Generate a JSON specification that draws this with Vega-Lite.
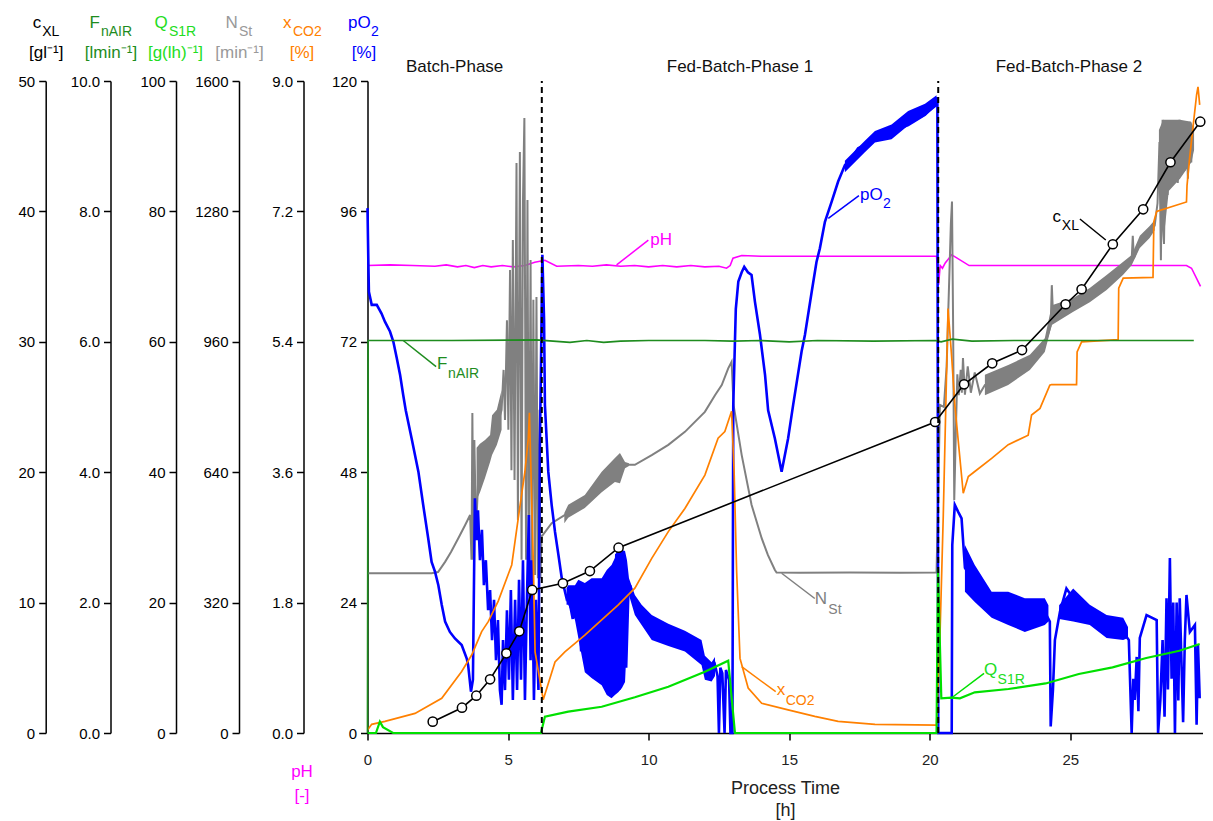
{
"$schema": "https://vega.github.io/schema/vega-lite/v6.json",
"width": 835,
"height": 652,
"autosize": {"type": "none"},
"padding": {"left": 367.5, "top": 81, "right": 10.5, "bottom": 88},
"background": "white",
"config": {
  "font": "Liberation Sans",
  "view": {"stroke": null},
  "axis": {"grid": false, "domainColor": "#000", "domainWidth": 1.5, "tickColor": "#000", "tickWidth": 1.5, "tickSize": 7, "labelColor": "#000", "labelFontSize": 15, "labelPadding": 4, "labelFont": "Liberation Sans", "titleFont": "Liberation Sans", "titleFontWeight": "normal", "labelOverlap": false}
},
"datasets": {
  "pO2": [
    {"t":0,"v":96.6},{"t":0.03,"v":86.7},{"t":0.05,"v":81.2},{"t":0.15,"v":78.8},{"t":0.33,"v":78.8},{"t":0.5,"v":77.2},{"t":0.62,"v":75.7},{"t":0.8,"v":73.9},{"t":0.92,"v":72.0},{"t":1.04,"v":69.0},{"t":1.16,"v":65.9},{"t":1.27,"v":62.2},{"t":1.36,"v":59.4},{"t":1.57,"v":54.2},{"t":1.81,"v":48.1},{"t":1.98,"v":42.0},{"t":2.16,"v":35.8},{"t":2.28,"v":31.5},{"t":2.4,"v":29.7},{"t":2.52,"v":27.2},{"t":2.64,"v":23.6},{"t":2.76,"v":20.5},{"t":2.93,"v":18.6},{"t":3.11,"v":17.4},{"t":3.35,"v":16.2},{"t":3.53,"v":13.7},{"t":3.58,"v":12.5},{"t":3.68,"v":7.6},{"t":3.75,"v":9.8},{"t":3.82,"v":43.2},{"t":3.88,"v":35.5},{"t":3.93,"v":41.0},{"t":4.0,"v":31.8},{"t":4.07,"v":37.4},{"t":4.14,"v":27.2},{"t":4.21,"v":31.8},{"t":4.29,"v":22.6},{"t":4.36,"v":26.3},{"t":4.43,"v":17.1},{"t":4.5,"v":24.5},{"t":4.57,"v":13.4},{"t":4.64,"v":20.8},{"t":4.71,"v":7.9},{"t":4.77,"v":5.2},{"t":4.82,"v":17.1},{"t":4.89,"v":7.9},{"t":4.96,"v":22.6},{"t":5.03,"v":9.8},{"t":5.1,"v":26.3},{"t":5.17,"v":6.1},{"t":5.25,"v":24.5},{"t":5.32,"v":7.9},{"t":5.39,"v":28.2},{"t":5.46,"v":9.8},{"t":5.53,"v":31.8},{"t":5.6,"v":6.1},{"t":5.67,"v":24.5},{"t":5.74,"v":40.1},{"t":5.8,"v":13.4},{"t":5.85,"v":31.8},{"t":5.92,"v":6.1},{"t":5.99,"v":24.5},{"t":6.08,"v":7.9},{"t":6.13,"v":52.1},{"t":6.22,"v":88.0},{"t":6.28,"v":76.0},{"t":6.31,"v":60.4},{"t":6.43,"v":48.1},{"t":6.55,"v":42.0},{"t":6.67,"v":37.0},{"t":6.79,"v":32.8},{"t":6.91,"v":28.5},{"t":7.08,"v":24.8},{"t":7.14,"v":25.4},{"t":7.3,"v":21.0},{"t":7.45,"v":27.0},{"t":7.6,"v":15.0},{"t":7.73,"v":26.0},{"t":7.85,"v":12.0},{"t":8.0,"v":27.0},{"t":8.15,"v":10.0},{"t":8.33,"v":28.0},{"t":8.45,"v":9.0},{"t":8.6,"v":30.0},{"t":8.72,"v":7.0},{"t":8.85,"v":33.0},{"t":8.97,"v":8.0},{"t":9.1,"v":33.0},{"t":9.2,"v":12.0},{"t":9.28,"v":26.0},{"t":9.34,"v":27.2},{"t":9.51,"v":23.6},{"t":9.75,"v":21.7},{"t":10.11,"v":19.0},{"t":10.7,"v":17.5},{"t":11.29,"v":16.2},{"t":11.88,"v":13.8},{"t":12.0,"v":11.6},{"t":12.24,"v":11.2},{"t":12.36,"v":12.5},{"t":12.45,"v":10.5},{"t":12.5,"v":0},{"t":12.55,"v":12.0},{"t":12.62,"v":11.0},{"t":12.7,"v":0},{"t":12.75,"v":11.6},{"t":12.86,"v":9.8},{"t":12.91,"v":0},{"t":12.98,"v":0},{"t":13.01,"v":60.4},{"t":13.1,"v":78.0},{"t":13.19,"v":83.1},{"t":13.31,"v":84.8},{"t":13.4,"v":85.8},{"t":13.53,"v":84.8},{"t":13.66,"v":84.3},{"t":13.78,"v":79.4},{"t":13.96,"v":73.3},{"t":14.14,"v":65.9},{"t":14.25,"v":59.4},{"t":14.49,"v":54.2},{"t":14.73,"v":48.1},{"t":14.96,"v":54.2},{"t":15.14,"v":60.4},{"t":15.44,"v":70.2},{"t":15.56,"v":73.3},{"t":15.8,"v":81.2},{"t":15.97,"v":86.7},{"t":16.09,"v":89.2},{"t":16.27,"v":94.1},{"t":16.51,"v":97.8},{"t":16.74,"v":101.5},{"t":16.98,"v":104.5},{"t":17.22,"v":105.8},{"t":17.45,"v":107.6},{"t":17.69,"v":108.2},{"t":18.05,"v":110.1},{"t":18.64,"v":110.7},{"t":19.23,"v":111.9},{"t":19.83,"v":113.8},{"t":20.24,"v":115.9},{"t":20.27,"v":117.0},{"t":20.3,"v":0},{"t":20.78,"v":0},{"t":20.8,"v":34.6},{"t":20.89,"v":42.0},{"t":21.01,"v":40.7},{"t":21.13,"v":39.5},{"t":21.25,"v":30.4},{"t":21.6,"v":27.6},{"t":22.2,"v":23.6},{"t":22.79,"v":23.0},{"t":23.38,"v":21.7},{"t":24.09,"v":22.3},{"t":24.27,"v":20.5},{"t":24.3,"v":1.2},{"t":24.38,"v":7.9},{"t":24.45,"v":17.1},{"t":24.63,"v":22.3},{"t":24.86,"v":26.6},{"t":25.1,"v":24.8},{"t":25.69,"v":21.7},{"t":26.29,"v":19.3},{"t":26.88,"v":18.6},{"t":27.08,"v":17.1},{"t":27.18,"v":0},{"t":27.24,"v":10.0},{"t":27.29,"v":6.1},{"t":27.36,"v":14.0},{"t":27.42,"v":4.0},{"t":27.47,"v":17.5},{"t":27.71,"v":21.7},{"t":28.07,"v":20.8},{"t":28.12,"v":0},{"t":28.2,"v":6.0},{"t":28.28,"v":17.1},{"t":28.35,"v":3.0},{"t":28.42,"v":24.8},{"t":28.47,"v":8.0},{"t":28.54,"v":32.2},{"t":28.6,"v":10.0},{"t":28.66,"v":24.0},{"t":28.72,"v":0},{"t":28.78,"v":24.0},{"t":28.84,"v":6.0},{"t":28.89,"v":24.8},{"t":29.01,"v":2.0},{"t":29.07,"v":17.0},{"t":29.13,"v":25.4},{"t":29.25,"v":18.6},{"t":29.43,"v":19.9},{"t":29.49,"v":1.5},{"t":29.54,"v":16.2},{"t":29.6,"v":6.4}
  ],
  "pO2band": [
    {"seg":1,"t":7.08,"lo":23.6,"hi":26.7},{"seg":1,"t":7.14,"lo":23.6,"hi":27.2},{"seg":1,"t":7.38,"lo":20.8,"hi":27.2},{"seg":1,"t":7.5,"lo":17.5,"hi":28.2},{"seg":1,"t":7.73,"lo":11.2,"hi":27.6},{"seg":1,"t":7.97,"lo":10.1,"hi":28.5},{"seg":1,"t":8.33,"lo":8.8,"hi":28.5},{"seg":1,"t":8.51,"lo":7.0,"hi":30.0},{"seg":1,"t":8.68,"lo":6.4,"hi":30.9},{"seg":1,"t":8.8,"lo":7.0,"hi":32.2},{"seg":1,"t":8.92,"lo":7.5,"hi":34.6},{"seg":1,"t":9.05,"lo":8.3,"hi":33.7},{"seg":1,"t":9.16,"lo":9.4,"hi":33.5},{"seg":1,"t":9.23,"lo":17.1,"hi":31.8},{"seg":1,"t":9.3,"lo":25.4,"hi":28.5},{"seg":1,"t":9.51,"lo":21.7,"hi":25.4},{"seg":1,"t":9.75,"lo":19.9,"hi":23.6},{"seg":1,"t":10.11,"lo":17.1,"hi":21.7},{"seg":1,"t":10.7,"lo":16.0,"hi":20.1},{"seg":1,"t":11.29,"lo":15.0,"hi":18.8},{"seg":1,"t":11.88,"lo":12.5,"hi":17.1},{"seg":1,"t":12.0,"lo":9.8,"hi":14.2},{"seg":1,"t":12.24,"lo":9.5,"hi":13.0},{"seg":1,"t":12.36,"lo":10.5,"hi":14.0},
    {"seg":2,"t":16.98,"lo":103.2,"hi":105.3},{"seg":2,"t":17.69,"lo":106.9,"hi":109.0},{"seg":2,"t":18.05,"lo":108.7,"hi":110.8},{"seg":2,"t":18.64,"lo":109.3,"hi":112.0},{"seg":2,"t":19.23,"lo":111.8,"hi":114.5},{"seg":2,"t":19.83,"lo":113.6,"hi":115.8},{"seg":2,"t":20.24,"lo":115.3,"hi":117.4},
    {"seg":3,"t":21.25,"lo":26.0,"hi":34.6},{"seg":3,"t":21.6,"lo":24.1,"hi":30.9},{"seg":3,"t":22.2,"lo":21.2,"hi":26.0},{"seg":3,"t":22.79,"lo":19.9,"hi":26.0},{"seg":3,"t":23.38,"lo":18.6,"hi":24.8},{"seg":3,"t":24.09,"lo":19.9,"hi":24.8},{"seg":3,"t":24.22,"lo":20.5,"hi":23.5},
    {"seg":4,"t":24.6,"lo":21.0,"hi":23.5},{"seg":4,"t":25.1,"lo":20.5,"hi":26.6},{"seg":4,"t":25.69,"lo":19.9,"hi":23.6},{"seg":4,"t":26.29,"lo":17.5,"hi":21.7},{"seg":4,"t":26.88,"lo":17.1,"hi":21.2},{"seg":4,"t":27.05,"lo":17.5,"hi":19.5}
  ],
  "xCO2": [
    {"t":0,"v":0.04},{"t":0.15,"v":0.12},{"t":0.62,"v":0.16},{"t":1.69,"v":0.27},{"t":2.64,"v":0.48},{"t":3.35,"v":0.85},{"t":3.71,"v":1.08},{"t":4.06,"v":1.40},{"t":4.3,"v":1.54},{"t":4.65,"v":1.82},{"t":5.13,"v":2.32},{"t":5.36,"v":2.96},{"t":5.6,"v":3.61},{"t":5.72,"v":4.07},{"t":5.76,"v":4.42},{"t":5.9,"v":2.32},{"t":5.96,"v":1.12},{"t":6.25,"v":0.46},{"t":6.67,"v":0.98},{"t":7.02,"v":1.12},{"t":7.73,"v":1.35},{"t":8.92,"v":1.77},{"t":9.51,"v":2.0},{"t":10.11,"v":2.41},{"t":10.7,"v":2.78},{"t":11.29,"v":3.10},{"t":12.0,"v":3.56},{"t":12.47,"v":4.07},{"t":12.71,"v":4.16},{"t":12.95,"v":4.44},{"t":13.04,"v":3.61},{"t":13.13,"v":2.23},{"t":13.25,"v":1.03},{"t":13.54,"v":0.62},{"t":14.02,"v":0.41},{"t":14.96,"v":0.32},{"t":15.91,"v":0.23},{"t":16.74,"v":0.16},{"t":18.05,"v":0.12},{"t":20.24,"v":0.11},{"t":20.36,"v":1.31},{"t":20.48,"v":3.01},{"t":20.65,"v":5.86},{"t":20.78,"v":5.18},{"t":20.89,"v":4.53},{"t":21.19,"v":3.31},{"t":21.37,"v":3.54},{"t":21.6,"v":3.61},{"t":22.2,"v":3.79},{"t":22.79,"v":3.98},{"t":23.5,"v":4.11},{"t":23.62,"v":4.39},{"t":23.92,"v":4.48},{"t":24.27,"v":4.80},{"t":24.33,"v":4.81},{"t":25.22,"v":4.81},{"t":25.24,"v":5.26},{"t":25.4,"v":5.40},{"t":26.7,"v":5.43},{"t":26.72,"v":6.14},{"t":26.88,"v":6.28},{"t":27.94,"v":6.29},{"t":27.97,"v":7.06},{"t":28.07,"v":7.20},{"t":29.13,"v":7.33},{"t":29.15,"v":7.56},{"t":29.24,"v":7.93},{"t":29.37,"v":8.39},{"t":29.49,"v":8.81},{"t":29.54,"v":8.92},{"t":29.6,"v":8.67}
  ],
  "NSt": [
    {"t":0,"v":392},{"t":2.28,"v":392},{"t":2.51,"v":395},{"t":2.76,"v":420},{"t":2.97,"v":444},{"t":3.23,"v":478},{"t":3.47,"v":510},{"t":3.65,"v":535},{"t":3.7,"v":425},{"t":3.73,"v":785},{"t":3.77,"v":425},{"t":3.8,"v":719},{"t":3.86,"v":498},{"t":3.95,"v":640},{"t":4.18,"v":672},{"t":4.36,"v":698},{"t":4.43,"v":731},{"t":4.6,"v":750},{"t":4.77,"v":793},{"t":4.84,"v":891},{"t":4.89,"v":768},{"t":4.96,"v":1013},{"t":5.01,"v":744},{"t":5.07,"v":1136},{"t":5.12,"v":645},{"t":5.17,"v":1210},{"t":5.23,"v":621},{"t":5.3,"v":1399},{"t":5.35,"v":523},{"t":5.42,"v":1426},{"t":5.48,"v":425},{"t":5.53,"v":1308},{"t":5.58,"v":1509},{"t":5.64,"v":425},{"t":5.69,"v":1308},{"t":5.74,"v":400},{"t":5.8,"v":1161},{"t":5.85,"v":395},{"t":5.9,"v":1063},{"t":5.96,"v":388},{"t":6.01,"v":1070},{"t":6.06,"v":380},{"t":6.12,"v":793},{"t":6.15,"v":380},{"t":6.19,"v":482},{"t":6.55,"v":515},{"t":7.14,"v":540},{"t":7.73,"v":568},{"t":8.33,"v":617},{"t":8.8,"v":650},{"t":9.16,"v":658},{"t":9.51,"v":658},{"t":10.11,"v":682},{"t":10.7,"v":707},{"t":11.29,"v":739},{"t":12.0,"v":788},{"t":12.36,"v":829},{"t":12.6,"v":854},{"t":12.83,"v":895},{"t":12.95,"v":911},{"t":13.02,"v":805},{"t":13.31,"v":682},{"t":13.66,"v":560},{"t":14.02,"v":478},{"t":14.24,"v":437},{"t":14.49,"v":400},{"t":14.55,"v":394},{"t":15.38,"v":393},{"t":17.16,"v":394},{"t":18.94,"v":393},{"t":20.24,"v":394},{"t":20.3,"v":584},{"t":20.36,"v":805},{"t":20.5,"v":800},{"t":20.6,"v":900},{"t":20.75,"v":1250},{"t":20.79,"v":1304},{"t":20.83,"v":1000},{"t":20.87,"v":572},{"t":20.93,"v":750},{"t":20.98,"v":880},{"t":21.03,"v":829},{"t":21.1,"v":891},{"t":21.14,"v":835},{"t":21.18,"v":920},{"t":21.25,"v":830},{"t":21.35,"v":900},{"t":21.46,"v":835},{"t":21.6,"v":885},{"t":21.78,"v":833},{"t":21.96,"v":854},{"t":22.79,"v":878},{"t":23.56,"v":910},{"t":24.09,"v":952},{"t":24.3,"v":1000},{"t":24.34,"v":1099},{"t":24.38,"v":1030},{"t":25.09,"v":1050},{"t":25.69,"v":1075},{"t":26.29,"v":1105},{"t":26.87,"v":1140},{"t":27.18,"v":1160},{"t":27.22,"v":1220},{"t":27.26,"v":1165},{"t":27.47,"v":1205},{"t":27.82,"v":1230},{"t":28.0,"v":1245},{"t":28.1,"v":1300},{"t":28.17,"v":1450},{"t":28.22,"v":1160},{"t":28.28,"v":1505},{"t":28.33,"v":1200},{"t":28.4,"v":1500},{"t":28.46,"v":1320},{"t":28.52,"v":1495},{"t":28.58,"v":1340},{"t":28.64,"v":1490},{"t":28.7,"v":1360},{"t":28.76,"v":1500},{"t":28.82,"v":1350},{"t":28.88,"v":1505},{"t":28.94,"v":1370},{"t":29.0,"v":1495},{"t":29.06,"v":1380},{"t":29.12,"v":1500},{"t":29.18,"v":1360},{"t":29.24,"v":1500},{"t":29.3,"v":1400},{"t":29.35,"v":1490}
  ],
  "NStband": [
    {"seg":1,"t":3.88,"lo":572,"hi":700},{"seg":1,"t":4.0,"lo":590,"hi":710},{"seg":1,"t":4.18,"lo":626,"hi":719},{"seg":1,"t":4.36,"lo":665,"hi":731},{"seg":1,"t":4.43,"lo":682,"hi":780},{"seg":1,"t":4.6,"lo":707,"hi":793},{"seg":1,"t":4.77,"lo":744,"hi":842},
    {"seg":2,"t":7.0,"lo":515,"hi":540},{"seg":2,"t":7.14,"lo":528,"hi":560},{"seg":2,"t":7.73,"lo":552,"hi":584},{"seg":2,"t":8.33,"lo":591,"hi":641},{"seg":2,"t":8.8,"lo":616,"hi":675},{"seg":2,"t":8.98,"lo":613,"hi":687},{"seg":2,"t":9.16,"lo":650,"hi":665},{"seg":2,"t":9.3,"lo":655,"hi":662},
    {"seg":3,"t":21.96,"lo":829,"hi":879},{"seg":3,"t":22.79,"lo":854,"hi":903},{"seg":3,"t":23.56,"lo":891,"hi":928},{"seg":3,"t":24.09,"lo":935,"hi":969},{"seg":3,"t":24.34,"lo":1001,"hi":1050},{"seg":3,"t":25.09,"lo":1033,"hi":1067},{"seg":3,"t":25.69,"lo":1057,"hi":1092},{"seg":3,"t":26.29,"lo":1087,"hi":1124},{"seg":3,"t":26.87,"lo":1124,"hi":1156},{"seg":3,"t":27.18,"lo":1148,"hi":1173},{"seg":3,"t":27.47,"lo":1190,"hi":1220},{"seg":3,"t":27.82,"lo":1215,"hi":1244},{"seg":3,"t":28.0,"lo":1234,"hi":1259},
    {"seg":4,"t":28.15,"lo":1330,"hi":1480},{"seg":4,"t":28.3,"lo":1200,"hi":1505},{"seg":4,"t":28.5,"lo":1330,"hi":1505},{"seg":4,"t":28.9,"lo":1360,"hi":1505},{"seg":4,"t":29.3,"lo":1400,"hi":1500},{"seg":4,"t":29.4,"lo":1430,"hi":1480}
  ],
  "QS1R": [
    {"t":0,"v":0},{"t":0.3,"v":0},{"t":0.44,"v":1.73},{"t":0.55,"v":0.9},{"t":0.91,"v":0},{"t":6.17,"v":0},{"t":6.31,"v":2.5},{"t":7.14,"v":3.27},{"t":8.33,"v":4.03},{"t":9.51,"v":5.48},{"t":10.7,"v":7.1},{"t":12.0,"v":9.4},{"t":12.83,"v":11.09},{"t":13.07,"v":0},{"t":20.24,"v":0},{"t":20.29,"v":25.2},{"t":20.41,"v":5.32},{"t":20.77,"v":5.41},{"t":21.07,"v":5.32},{"t":21.6,"v":6.24},{"t":22.8,"v":6.75},{"t":24.12,"v":7.6},{"t":25.3,"v":9.05},{"t":26.5,"v":10.07},{"t":27.7,"v":11.5},{"t":28.88,"v":12.62},{"t":29.6,"v":13.65}
  ],
  "FnAIR": [
    {"t":0,"v":0},{"t":0.02,"v":6.02},{"t":3,"v":6.02},{"t":6.0,"v":6.03},{"t":6.6,"v":6.01},{"t":7.2,"v":5.99},{"t":7.8,"v":6.02},{"t":8.4,"v":5.99},{"t":9.0,"v":6.01},{"t":10,"v":6.02},{"t":12,"v":6.02},{"t":13,"v":6.01},{"t":14,"v":6.02},{"t":15,"v":6.0},{"t":16,"v":6.02},{"t":18,"v":6.01},{"t":20.2,"v":6.02},{"t":20.4,"v":6.0},{"t":20.8,"v":6.04},{"t":21.5,"v":6.01},{"t":23,"v":6.02},{"t":25,"v":6.02},{"t":27,"v":6.02},{"t":29.39,"v":6.02}
  ],
  "pH": [
    {"t":0,"v":6.99},{"t":0.8,"v":7.0},{"t":1.6,"v":6.99},{"t":2.4,"v":6.98},{"t":2.8,"v":7.0},{"t":3.2,"v":6.97},{"t":3.5,"v":6.99},{"t":3.8,"v":6.96},{"t":4.1,"v":6.99},{"t":4.4,"v":6.97},{"t":4.8,"v":6.99},{"t":5.2,"v":6.97},{"t":5.6,"v":6.99},{"t":5.95,"v":7.04},{"t":6.31,"v":7.07},{"t":6.73,"v":6.98},{"t":7.5,"v":6.99},{"t":8.0,"v":6.98},{"t":8.5,"v":7.0},{"t":9.0,"v":6.98},{"t":9.5,"v":6.99},{"t":10,"v":6.97},{"t":10.5,"v":6.99},{"t":11,"v":6.97},{"t":11.5,"v":6.99},{"t":12,"v":6.97},{"t":12.5,"v":6.98},{"t":12.77,"v":6.95},{"t":12.9,"v":6.99},{"t":13.0,"v":7.1},{"t":13.31,"v":7.14},{"t":14,"v":7.13},{"t":16,"v":7.13},{"t":18,"v":7.13},{"t":20.24,"v":7.13},{"t":20.31,"v":6.7},{"t":20.37,"v":6.99},{"t":20.45,"v":6.95},{"t":20.55,"v":7.03},{"t":20.78,"v":7.15},{"t":20.9,"v":7.12},{"t":21.4,"v":6.99},{"t":23,"v":6.99},{"t":25,"v":6.99},{"t":27,"v":6.99},{"t":29.13,"v":6.99},{"t":29.31,"v":6.95},{"t":29.63,"v":6.68}
  ],
  "cXL": [
    {"t":2.32,"v":0.87},{"t":3.36,"v":1.94},{"t":3.87,"v":2.86},{"t":4.36,"v":4.12},{"t":4.94,"v":6.11},{"t":5.4,"v":7.8},{"t":5.86,"v":10.97},{"t":6.95,"v":11.48},{"t":7.91,"v":12.42},{"t":8.93,"v":14.21},{"t":20.19,"v":23.85},{"t":21.22,"v":26.74},{"t":22.22,"v":28.35},{"t":23.28,"v":29.37},{"t":24.83,"v":32.88},{"t":25.4,"v":34.03},{"t":26.51,"v":37.48},{"t":27.59,"v":40.16},{"t":28.56,"v":43.77},{"t":29.62,"v":46.88}
  ],
  "notes": [
    {"s":"pO2","main":"pO","sub":"2","t1":16.39,"v1":94.7,"t2":17.48,"v2":98.9},
    {"s":"pH","main":"pH","sub":"","t1":8.86,"v1":7.0,"t2":9.99,"v2":7.37},
    {"s":"F","main":"F","sub":"nAIR","t1":1.27,"v1":6.02,"t2":2.44,"v2":5.62},
    {"s":"N","main":"N","sub":"St","t1":14.73,"v1":392,"t2":15.91,"v2":330},
    {"s":"x","main":"x","sub":"CO2","t1":13.31,"v1":0.915,"t2":14.52,"v2":0.57},
    {"s":"Q","main":"Q","sub":"S1R","t1":20.78,"v1":5.41,"t2":21.93,"v2":9.16},
    {"s":"c","main":"c","sub":"XL","t1":25.34,"v1":39.42,"t2":26.26,"v2":37.81}
  ],
  "bounds": [{"t":6.2},{"t":20.3}],
  "phases": [{"phase":"Batch-Phase","t":3.1},{"phase":"Fed-Batch-Phase 1","t":13.25},{"phase":"Fed-Batch-Phase 2","t":24.95}]
},
"resolve": {"scale": {"y": "independent"}},
"layer": [
  {
    "resolve": {"axis": {"y": "independent"}},
    "layer": [
      {"data": {"name": "pH"}, "mark": {"type": "line", "color": "#ff00ff", "strokeWidth": 1.6},
       "encoding": {
         "x": {"field": "t", "type": "quantitative", "scale": {"domain": [0, 29.7], "nice": false, "zero": false},
               "axis": {"orient": "bottom", "values": [0, 5, 10, 15, 20, 25], "title": ["Process Time", "[h]"], "titleFontSize": 18, "titleLineHeight": 22, "titleBaseline": "alphabetic", "titleY": 60, "titleColor": "#222222", "labelFontSize": 15, "labelPadding": 12, "labelFlush": false, "labelColor": "#222222", "domain": true, "ticks": true, "labels": true}},
         "y": {"field": "v", "type": "quantitative", "scale": {"domain": [0, 9.75], "nice": false, "zero": false},
               "axis": {"orient": "left", "offset": 64, "domain": false, "ticks": false, "labels": false, "title": ["pH", "[-]"], "titleColor": "#ff00ff", "titleFontSize": 17, "titleAngle": 0, "titleAlign": "center", "titleBaseline": "alphabetic", "titleX": -2, "titleY": 695, "titleLineHeight": 24}}}},
      {"data": {"name": "notes"}, "transform": [{"filter": "datum.s === 'pH'"}], "mark": {"type": "rule", "color": "#ff00ff", "strokeWidth": 1.5},
       "encoding": {
         "x": {"field": "t1", "type": "quantitative", "scale": {"domain": [0, 29.7], "nice": false, "zero": false}},
         "x2": {"field": "t2"},
         "y": {"field": "v1", "type": "quantitative", "scale": {"domain": [0, 9.75], "nice": false, "zero": false}, "axis": null},
         "y2": {"field": "v2"}}},
      {"data": {"name": "notes"}, "transform": [{"filter": "datum.s === 'pH'"}], "mark": {"type": "text", "color": "#ff00ff", "fontSize": 17, "align": "left", "baseline": "alphabetic", "dx": 2, "dy": 5},
       "encoding": {
         "x": {"field": "t2", "type": "quantitative", "scale": {"domain": [0, 29.7], "nice": false, "zero": false}},
         "y": {"field": "v2", "type": "quantitative", "scale": {"domain": [0, 9.75], "nice": false, "zero": false}, "axis": null},
         "text": {"field": "main"}}}
    ]
  },
  {
    "resolve": {"axis": {"y": "independent"}},
    "layer": [
      {"data": {"name": "NStband"}, "mark": {"type": "area", "color": "#808080", "opacity": 1},
       "encoding": {
         "x": {"field": "t", "type": "quantitative", "scale": {"domain": [0, 29.7], "nice": false, "zero": false}},
         "y": {"field": "lo", "type": "quantitative", "scale": {"domain": [0, 1600], "nice": false, "zero": false}, "axis": null},
         "y2": {"field": "hi"},
         "detail": {"field": "seg"}}},
      {"data": {"name": "NSt"}, "mark": {"type": "line", "color": "#808080", "strokeWidth": 2},
       "encoding": {
         "x": {"field": "t", "type": "quantitative", "scale": {"domain": [0, 29.7], "nice": false, "zero": false}},
         "y": {"field": "v", "type": "quantitative", "scale": {"domain": [0, 1600], "nice": false, "zero": false},
               "axis": {"orient": "left", "offset": 128.5, "values": [0, 320, 640, 960, 1280, 1600], "format": "d", "title": "[min⁻¹]", "titleColor": "#999999", "titleFontSize": 17, "titleAngle": 0, "titleAlign": "center", "titleBaseline": "alphabetic", "titleX": 0, "titleY": -24}}}},
      {"data": {"name": "notes"}, "transform": [{"filter": "datum.s === 'N'"}], "mark": {"type": "rule", "color": "#808080", "strokeWidth": 1.5},
       "encoding": {
         "x": {"field": "t1", "type": "quantitative", "scale": {"domain": [0, 29.7], "nice": false, "zero": false}},
         "x2": {"field": "t2"},
         "y": {"field": "v1", "type": "quantitative", "scale": {"domain": [0, 1600], "nice": false, "zero": false}, "axis": null},
         "y2": {"field": "v2"}}},
      {"data": {"name": "notes"}, "transform": [{"filter": "datum.s === 'N'"}], "mark": {"type": "text", "color": "#808080", "fontSize": 17, "align": "left", "baseline": "alphabetic", "dx": 0, "dy": 5},
       "encoding": {
         "x": {"field": "t2", "type": "quantitative", "scale": {"domain": [0, 29.7], "nice": false, "zero": false}},
         "y": {"field": "v2", "type": "quantitative", "scale": {"domain": [0, 1600], "nice": false, "zero": false},
               "axis": {"orient": "left", "offset": 128.5, "domain": false, "ticks": false, "labels": false, "title": "N", "titleColor": "#999999", "titleFontSize": 17, "titleAngle": 0, "titleAlign": "left", "titleBaseline": "alphabetic", "titleX": -14, "titleY": -54}},
         "text": {"field": "main"}}},
      {"data": {"name": "notes"}, "transform": [{"filter": "datum.s === 'N'"}], "mark": {"type": "text", "color": "#808080", "fontSize": 14, "align": "left", "baseline": "alphabetic", "dx": 13.5, "dy": 15},
       "encoding": {
         "x": {"field": "t2", "type": "quantitative", "scale": {"domain": [0, 29.7], "nice": false, "zero": false}},
         "y": {"field": "v2", "type": "quantitative", "scale": {"domain": [0, 1600], "nice": false, "zero": false},
               "axis": {"orient": "left", "offset": 128.5, "domain": false, "ticks": false, "labels": false, "title": "St", "titleColor": "#999999", "titleFontSize": 14, "titleAngle": 0, "titleAlign": "left", "titleBaseline": "alphabetic", "titleX": -0.5, "titleY": -46}},
         "text": {"field": "sub"}}}
    ]
  },
  {
    "resolve": {"axis": {"y": "independent"}},
    "layer": [
      {"data": {"name": "pO2band"}, "mark": {"type": "area", "color": "#0000ff", "opacity": 1},
       "encoding": {
         "x": {"field": "t", "type": "quantitative", "scale": {"domain": [0, 29.7], "nice": false, "zero": false}},
         "y": {"field": "lo", "type": "quantitative", "scale": {"domain": [0, 120], "nice": false, "zero": false}, "axis": null},
         "y2": {"field": "hi"},
         "detail": {"field": "seg"}}},
      {"data": {"name": "pO2"}, "mark": {"type": "line", "color": "#0000ff", "strokeWidth": 2.6},
       "encoding": {
         "x": {"field": "t", "type": "quantitative", "scale": {"domain": [0, 29.7], "nice": false, "zero": false}},
         "y": {"field": "v", "type": "quantitative", "scale": {"domain": [0, 120], "nice": false, "zero": false},
               "axis": {"orient": "left", "offset": 0, "values": [0, 24, 48, 72, 96, 120], "title": "[%]", "titleColor": "#0000ff", "titleFontSize": 17, "titleAngle": 0, "titleAlign": "center", "titleBaseline": "alphabetic", "titleX": -4, "titleY": -24}}}},
      {"data": {"name": "notes"}, "transform": [{"filter": "datum.s === 'pO2'"}], "mark": {"type": "rule", "color": "#0000ff", "strokeWidth": 1.5},
       "encoding": {
         "x": {"field": "t1", "type": "quantitative", "scale": {"domain": [0, 29.7], "nice": false, "zero": false}},
         "x2": {"field": "t2"},
         "y": {"field": "v1", "type": "quantitative", "scale": {"domain": [0, 120], "nice": false, "zero": false}, "axis": null},
         "y2": {"field": "v2"}}},
      {"data": {"name": "notes"}, "transform": [{"filter": "datum.s === 'pO2'"}], "mark": {"type": "text", "color": "#0000ff", "fontSize": 17, "align": "left", "baseline": "alphabetic", "dx": 1, "dy": 4},
       "encoding": {
         "x": {"field": "t2", "type": "quantitative", "scale": {"domain": [0, 29.7], "nice": false, "zero": false}},
         "y": {"field": "v2", "type": "quantitative", "scale": {"domain": [0, 120], "nice": false, "zero": false},
               "axis": {"orient": "left", "offset": 0, "domain": false, "ticks": false, "labels": false, "title": "pO", "titleColor": "#0000ff", "titleFontSize": 17, "titleAngle": 0, "titleAlign": "left", "titleBaseline": "alphabetic", "titleX": -20, "titleY": -54}},
         "text": {"field": "main"}}},
      {"data": {"name": "notes"}, "transform": [{"filter": "datum.s === 'pO2'"}], "mark": {"type": "text", "color": "#0000ff", "fontSize": 14, "align": "left", "baseline": "alphabetic", "dx": 24, "dy": 12},
       "encoding": {
         "x": {"field": "t2", "type": "quantitative", "scale": {"domain": [0, 29.7], "nice": false, "zero": false}},
         "y": {"field": "v2", "type": "quantitative", "scale": {"domain": [0, 120], "nice": false, "zero": false},
               "axis": {"orient": "left", "offset": 0, "domain": false, "ticks": false, "labels": false, "title": "2", "titleColor": "#0000ff", "titleFontSize": 14, "titleAngle": 0, "titleAlign": "left", "titleBaseline": "alphabetic", "titleX": 3, "titleY": -46}},
         "text": {"field": "sub"}}}
    ]
  },
  {
    "resolve": {"axis": {"y": "independent"}},
    "layer": [
      {"data": {"name": "xCO2"}, "mark": {"type": "line", "color": "#ff8000", "strokeWidth": 1.7},
       "encoding": {
         "x": {"field": "t", "type": "quantitative", "scale": {"domain": [0, 29.7], "nice": false, "zero": false}},
         "y": {"field": "v", "type": "quantitative", "scale": {"domain": [0, 9], "nice": false, "zero": false},
               "axis": {"orient": "left", "offset": 64, "values": [0, 1.8, 3.6, 5.4, 7.2, 9], "format": ".1f", "title": "[%]", "titleColor": "#ff8000", "titleFontSize": 17, "titleAngle": 0, "titleAlign": "center", "titleBaseline": "alphabetic", "titleX": -2, "titleY": -24}}}},
      {"data": {"name": "notes"}, "transform": [{"filter": "datum.s === 'x'"}], "mark": {"type": "rule", "color": "#ff8000", "strokeWidth": 1.5},
       "encoding": {
         "x": {"field": "t1", "type": "quantitative", "scale": {"domain": [0, 29.7], "nice": false, "zero": false}},
         "x2": {"field": "t2"},
         "y": {"field": "v1", "type": "quantitative", "scale": {"domain": [0, 9], "nice": false, "zero": false}, "axis": null},
         "y2": {"field": "v2"}}},
      {"data": {"name": "notes"}, "transform": [{"filter": "datum.s === 'x'"}], "mark": {"type": "text", "color": "#ff8000", "fontSize": 17, "align": "left", "baseline": "alphabetic", "dx": 1, "dy": 3},
       "encoding": {
         "x": {"field": "t2", "type": "quantitative", "scale": {"domain": [0, 29.7], "nice": false, "zero": false}},
         "y": {"field": "v2", "type": "quantitative", "scale": {"domain": [0, 9], "nice": false, "zero": false},
               "axis": {"orient": "left", "offset": 64, "domain": false, "ticks": false, "labels": false, "title": "x", "titleColor": "#ff8000", "titleFontSize": 17, "titleAngle": 0, "titleAlign": "left", "titleBaseline": "alphabetic", "titleX": -21, "titleY": -54}},
         "text": {"field": "main"}}},
      {"data": {"name": "notes"}, "transform": [{"filter": "datum.s === 'x'"}], "mark": {"type": "text", "color": "#ff8000", "fontSize": 14, "align": "left", "baseline": "alphabetic", "dx": 10, "dy": 13},
       "encoding": {
         "x": {"field": "t2", "type": "quantitative", "scale": {"domain": [0, 29.7], "nice": false, "zero": false}},
         "y": {"field": "v2", "type": "quantitative", "scale": {"domain": [0, 9], "nice": false, "zero": false},
               "axis": {"orient": "left", "offset": 64, "domain": false, "ticks": false, "labels": false, "title": "CO2", "titleColor": "#ff8000", "titleFontSize": 14, "titleAngle": 0, "titleAlign": "left", "titleBaseline": "alphabetic", "titleX": -11, "titleY": -46}},
         "text": {"field": "sub"}}}
    ]
  },
  {
    "resolve": {"axis": {"y": "independent"}},
    "layer": [
      {"data": {"name": "QS1R"}, "mark": {"type": "line", "color": "#00e000", "strokeWidth": 2.2},
       "encoding": {
         "x": {"field": "t", "type": "quantitative", "scale": {"domain": [0, 29.7], "nice": false, "zero": false}},
         "y": {"field": "v", "type": "quantitative", "scale": {"domain": [0, 100], "nice": false, "zero": false},
               "axis": {"orient": "left", "offset": 191.5, "values": [0, 20, 40, 60, 80, 100], "title": "[g(lh)⁻¹]", "titleColor": "#22dd22", "titleFontSize": 17, "titleAngle": 0, "titleAlign": "center", "titleBaseline": "alphabetic", "titleX": -1, "titleY": -24}}}},
      {"data": {"name": "notes"}, "transform": [{"filter": "datum.s === 'Q'"}], "mark": {"type": "rule", "color": "#00e000", "strokeWidth": 1.5},
       "encoding": {
         "x": {"field": "t1", "type": "quantitative", "scale": {"domain": [0, 29.7], "nice": false, "zero": false}},
         "x2": {"field": "t2"},
         "y": {"field": "v1", "type": "quantitative", "scale": {"domain": [0, 100], "nice": false, "zero": false}, "axis": null},
         "y2": {"field": "v2"}}},
      {"data": {"name": "notes"}, "transform": [{"filter": "datum.s === 'Q'"}], "mark": {"type": "text", "color": "#22dd22", "fontSize": 17, "align": "left", "baseline": "alphabetic", "dx": 0, "dy": 2},
       "encoding": {
         "x": {"field": "t2", "type": "quantitative", "scale": {"domain": [0, 29.7], "nice": false, "zero": false}},
         "y": {"field": "v2", "type": "quantitative", "scale": {"domain": [0, 100], "nice": false, "zero": false},
               "axis": {"orient": "left", "offset": 191.5, "domain": false, "ticks": false, "labels": false, "title": "Q", "titleColor": "#22dd22", "titleFontSize": 17, "titleAngle": 0, "titleAlign": "left", "titleBaseline": "alphabetic", "titleX": -22, "titleY": -54}},
         "text": {"field": "main"}}},
      {"data": {"name": "notes"}, "transform": [{"filter": "datum.s === 'Q'"}], "mark": {"type": "text", "color": "#22dd22", "fontSize": 14, "align": "left", "baseline": "alphabetic", "dx": 13.5, "dy": 11},
       "encoding": {
         "x": {"field": "t2", "type": "quantitative", "scale": {"domain": [0, 29.7], "nice": false, "zero": false}},
         "y": {"field": "v2", "type": "quantitative", "scale": {"domain": [0, 100], "nice": false, "zero": false},
               "axis": {"orient": "left", "offset": 191.5, "domain": false, "ticks": false, "labels": false, "title": "S1R", "titleColor": "#22dd22", "titleFontSize": 14, "titleAngle": 0, "titleAlign": "left", "titleBaseline": "alphabetic", "titleX": -7.5, "titleY": -46}},
         "text": {"field": "sub"}}}
    ]
  },
  {
    "resolve": {"axis": {"y": "independent"}},
    "layer": [
      {"data": {"name": "FnAIR"}, "mark": {"type": "line", "color": "#1e8c1e", "strokeWidth": 1.7},
       "encoding": {
         "x": {"field": "t", "type": "quantitative", "scale": {"domain": [0, 29.7], "nice": false, "zero": false}},
         "y": {"field": "v", "type": "quantitative", "scale": {"domain": [0, 10], "nice": false, "zero": false},
               "axis": {"orient": "left", "offset": 257, "values": [0, 2, 4, 6, 8, 10], "format": ".1f", "title": "[lmin⁻¹]", "titleColor": "#1e8c1e", "titleFontSize": 17, "titleAngle": 0, "titleAlign": "center", "titleBaseline": "alphabetic", "titleX": 0, "titleY": -24}}}},
      {"data": {"name": "notes"}, "transform": [{"filter": "datum.s === 'F'"}], "mark": {"type": "rule", "color": "#1e8c1e", "strokeWidth": 1.5},
       "encoding": {
         "x": {"field": "t1", "type": "quantitative", "scale": {"domain": [0, 29.7], "nice": false, "zero": false}},
         "x2": {"field": "t2"},
         "y": {"field": "v1", "type": "quantitative", "scale": {"domain": [0, 10], "nice": false, "zero": false}, "axis": null},
         "y2": {"field": "v2"}}},
      {"data": {"name": "notes"}, "transform": [{"filter": "datum.s === 'F'"}], "mark": {"type": "text", "color": "#1e8c1e", "fontSize": 17, "align": "left", "baseline": "alphabetic", "dx": 1, "dy": 2},
       "encoding": {
         "x": {"field": "t2", "type": "quantitative", "scale": {"domain": [0, 29.7], "nice": false, "zero": false}},
         "y": {"field": "v2", "type": "quantitative", "scale": {"domain": [0, 10], "nice": false, "zero": false},
               "axis": {"orient": "left", "offset": 257, "domain": false, "ticks": false, "labels": false, "title": "F", "titleColor": "#1e8c1e", "titleFontSize": 17, "titleAngle": 0, "titleAlign": "left", "titleBaseline": "alphabetic", "titleX": -21.5, "titleY": -54}},
         "text": {"field": "main"}}},
      {"data": {"name": "notes"}, "transform": [{"filter": "datum.s === 'F'"}], "mark": {"type": "text", "color": "#1e8c1e", "fontSize": 14, "align": "left", "baseline": "alphabetic", "dx": 12, "dy": 11},
       "encoding": {
         "x": {"field": "t2", "type": "quantitative", "scale": {"domain": [0, 29.7], "nice": false, "zero": false}},
         "y": {"field": "v2", "type": "quantitative", "scale": {"domain": [0, 10], "nice": false, "zero": false},
               "axis": {"orient": "left", "offset": 257, "domain": false, "ticks": false, "labels": false, "title": "nAIR", "titleColor": "#1e8c1e", "titleFontSize": 14, "titleAngle": 0, "titleAlign": "left", "titleBaseline": "alphabetic", "titleX": -10, "titleY": -46}},
         "text": {"field": "sub"}}}
    ]
  },
  {
    "resolve": {"axis": {"y": "independent"}},
    "layer": [
      {"data": {"name": "cXL"}, "mark": {"type": "line", "color": "#000000", "strokeWidth": 1.6},
       "encoding": {
         "x": {"field": "t", "type": "quantitative", "scale": {"domain": [0, 29.7], "nice": false, "zero": false}},
         "y": {"field": "v", "type": "quantitative", "scale": {"domain": [0, 50], "nice": false, "zero": false},
               "axis": {"orient": "left", "offset": 321.8, "values": [0, 10, 20, 30, 40, 50], "title": "[gl⁻¹]", "titleColor": "#000000", "titleFontSize": 17, "titleAngle": 0, "titleAlign": "center", "titleBaseline": "alphabetic", "titleX": 0, "titleY": -24}}}},
      {"data": {"name": "cXL"}, "mark": {"type": "point", "shape": "circle", "fill": "#ffffff", "fillOpacity": 1, "stroke": "#000000", "strokeWidth": 1.5, "size": 85, "opacity": 1},
       "encoding": {
         "x": {"field": "t", "type": "quantitative", "scale": {"domain": [0, 29.7], "nice": false, "zero": false}},
         "y": {"field": "v", "type": "quantitative", "scale": {"domain": [0, 50], "nice": false, "zero": false}, "axis": null}}},
      {"data": {"name": "notes"}, "transform": [{"filter": "datum.s === 'c'"}], "mark": {"type": "rule", "color": "#000000", "strokeWidth": 1.5},
       "encoding": {
         "x": {"field": "t1", "type": "quantitative", "scale": {"domain": [0, 29.7], "nice": false, "zero": false}},
         "x2": {"field": "t2"},
         "y": {"field": "v1", "type": "quantitative", "scale": {"domain": [0, 50], "nice": false, "zero": false}, "axis": null},
         "y2": {"field": "v2"}}},
      {"data": {"name": "notes"}, "transform": [{"filter": "datum.s === 'c'"}], "mark": {"type": "text", "color": "#000000", "fontSize": 17, "align": "right", "baseline": "alphabetic", "dx": -19, "dy": 3},
       "encoding": {
         "x": {"field": "t1", "type": "quantitative", "scale": {"domain": [0, 29.7], "nice": false, "zero": false}},
         "y": {"field": "v1", "type": "quantitative", "scale": {"domain": [0, 50], "nice": false, "zero": false},
               "axis": {"orient": "left", "offset": 321.8, "domain": false, "ticks": false, "labels": false, "title": "c", "titleColor": "#000000", "titleFontSize": 17, "titleAngle": 0, "titleAlign": "left", "titleBaseline": "alphabetic", "titleX": -13.5, "titleY": -54}},
         "text": {"field": "main"}}},
      {"data": {"name": "notes"}, "transform": [{"filter": "datum.s === 'c'"}], "mark": {"type": "text", "color": "#000000", "fontSize": 14, "align": "right", "baseline": "alphabetic", "dx": -1, "dy": 11},
       "encoding": {
         "x": {"field": "t1", "type": "quantitative", "scale": {"domain": [0, 29.7], "nice": false, "zero": false}},
         "y": {"field": "v1", "type": "quantitative", "scale": {"domain": [0, 50], "nice": false, "zero": false},
               "axis": {"orient": "left", "offset": 321.8, "domain": false, "ticks": false, "labels": false, "title": "XL", "titleColor": "#000000", "titleFontSize": 14, "titleAngle": 0, "titleAlign": "left", "titleBaseline": "alphabetic", "titleX": -4, "titleY": -46}},
         "text": {"field": "sub"}}}
    ]
  },
  {
    "layer": [
      {"data": {"name": "bounds"}, "mark": {"type": "rule", "color": "#000000", "strokeWidth": 2, "strokeDash": [6, 4]},
       "encoding": {
         "x": {"field": "t", "type": "quantitative", "scale": {"domain": [0, 29.7], "nice": false, "zero": false}},
         "y": {"datum": 0, "type": "quantitative", "scale": {"domain": [0, 120], "nice": false, "zero": false}, "axis": null},
         "y2": {"datum": 120}}},
      {"data": {"name": "phases"}, "mark": {"type": "text", "fontSize": 17, "color": "#111111", "align": "center", "baseline": "alphabetic", "dy": -9},
       "encoding": {
         "x": {"field": "t", "type": "quantitative", "scale": {"domain": [0, 29.7], "nice": false, "zero": false}},
         "y": {"datum": 120, "type": "quantitative", "scale": {"domain": [0, 120], "nice": false, "zero": false}, "axis": null},
         "text": {"field": "phase"}}}
    ]
  }
]
}
